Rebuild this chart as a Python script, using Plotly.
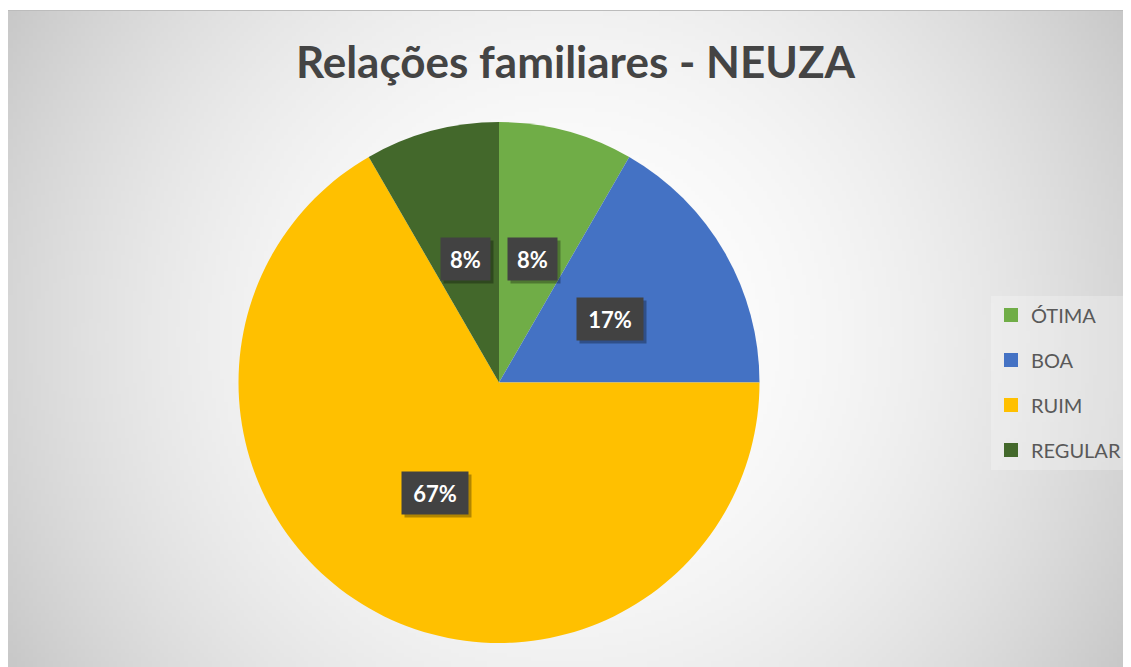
import base64
import struct
import zlib
import math

import numpy as np
import plotly.graph_objects as go

# ---------------- data ----------------
categories = ["ÓTIMA", "BOA", "RUIM", "REGULAR"]
values = [1, 2, 8, 1]
colors = ["#70AD47", "#4472C4", "#FFC000", "#43682B"]
title_text = "Relações familiares - NEUZA"

# ---------------- layout constants ----------------
OFF = 8                      # page body margin of the browser
W, H = 1131 - OFF, 667 - OFF  # figure size
PIE_CX, PIE_CY, PIE_R = 499, 382.5, 260.5   # in window pixels
AREA_X0, AREA_Y0 = 7, 10  # chart area top-left (window px)
WIN_W, WIN_H = 1131, 667


def px_x(x):
    return (x - OFF) / W


def px_y(y):
    return 1 - (y - OFF) / H


# ---------------- radial gradient background (PNG) ----------------
def gradient_png(gw, gh, scale, cx, cy):
    ys, xs = np.mgrid[0:gh, 0:gw]
    dx = (xs + 0.5) * scale - cx
    dy = (ys + 0.5) * scale - cy
    d2 = dx * dx + dy * dy
    val = np.clip(255 - 1.3e-4 * d2, 0, 255).astype(np.uint8)
    raw = b"".join(b"\x00" + val[r].tobytes() for r in range(gh))

    def chunk(tag, data):
        c = struct.pack(">I", len(data)) + tag + data
        return c + struct.pack(">I", zlib.crc32(tag + data) & 0xFFFFFFFF)

    png = b"\x89PNG\r\n\x1a\n"
    png += chunk(b"IHDR", struct.pack(">IIBBBBB", gw, gh, 8, 0, 0, 0, 0))
    png += chunk(b"IDAT", zlib.compress(raw, 9))
    png += chunk(b"IEND", b"")
    return "data:image/png;base64," + base64.b64encode(png).decode()


area_w, area_h = WIN_W - AREA_X0, WIN_H - AREA_Y0
scale = 4
bg_src = gradient_png(area_w // scale + 1, area_h // scale + 1, scale,
                      569 - AREA_X0, 338 - AREA_Y0)

fig = go.Figure()

fig.add_trace(go.Pie(
    labels=categories,
    values=values,
    marker=dict(colors=colors, line=dict(width=0)),
    sort=False,
    direction="clockwise",
    rotation=0,
    textinfo="none",
    hoverinfo="label+percent",
    showlegend=False,
    domain=dict(x=[px_x(PIE_CX - PIE_R), px_x(PIE_CX + PIE_R)],
                y=[px_y(PIE_CY + PIE_R), px_y(PIE_CY - PIE_R)]),
))

# legend entries (square markers) via empty scatter traces
for cat, col in zip(categories, colors):
    fig.add_trace(go.Scatter(
        x=[None], y=[None], mode="markers", name=cat,
        legendgroup=cat,
        marker=dict(symbol="square", size=14, color=col, line=dict(width=0)),
        hoverinfo="skip",
    ))

# data labels computed from the values
total = sum(values)
annotations = []
cum = 0
k = 0.49
for v in values:
    theta = 2 * math.pi * (cum + v / 2) / total
    cum += v
    lx = PIE_CX + k * PIE_R * math.sin(theta)
    ly = PIE_CY - k * PIE_R * math.cos(theta)
    txt = f"{round(100 * v / total)}%"
    box_w = 15 + 17 * len(txt)
    common = dict(x=px_x(lx), y=px_y(ly), xref="paper", yref="paper",
                  showarrow=False, borderpad=0, width=box_w, height=42,
                  xanchor="center", yanchor="middle", align="center",
                  valign="middle")
    # drop shadow box (no visible text)
    annotations.append(dict(text="&nbsp;", bgcolor="rgba(0,0,0,0.30)",
                            font=dict(family="Lato", size=22),
                            xshift=3, yshift=-3, **common))
    annotations.append(dict(text=txt, bgcolor="#424242",
                            font=dict(family="Lato", size=22, weight=700,
                                      color="white"), **common))

fig.update_layout(
    width=W, height=H,
    margin=dict(l=0, r=0, t=0, b=0),
    paper_bgcolor="white",
    plot_bgcolor="rgba(0,0,0,0)",
    xaxis=dict(visible=False),
    yaxis=dict(visible=False),
    title=dict(text=title_text, x=px_x(575.5), y=px_y(63),
               xanchor="center", yanchor="middle", xref="paper", yref="paper",
               font=dict(family="Lato", size=44, weight=700, color="#444444")),
    legend=dict(
        x=px_x(991), y=px_y(382.5), xanchor="left", yanchor="middle",
        font=dict(family="Lato", size=20, color="#595959"),
        bgcolor="rgba(255,255,255,0.25)",
        tracegroupgap=16,
        traceorder="grouped",
    ),
    images=[dict(source=bg_src, xref="paper", yref="paper",
                 x=px_x(AREA_X0), y=px_y(AREA_Y0),
                 sizex=area_w / W, sizey=area_h / H,
                 xanchor="left", yanchor="top", sizing="stretch",
                 layer="below")],
    shapes=[dict(type="rect", xref="paper", yref="paper",
                 x0=px_x(AREA_X0 + 0.5), y0=px_y(WIN_H + 2),
                 x1=px_x(WIN_W + 2), y1=px_y(AREA_Y0 + 0.5),
                 line=dict(color="#bcbcbc", width=1), layer="below")],
    annotations=annotations,
)

fig.write_html("out.html")
